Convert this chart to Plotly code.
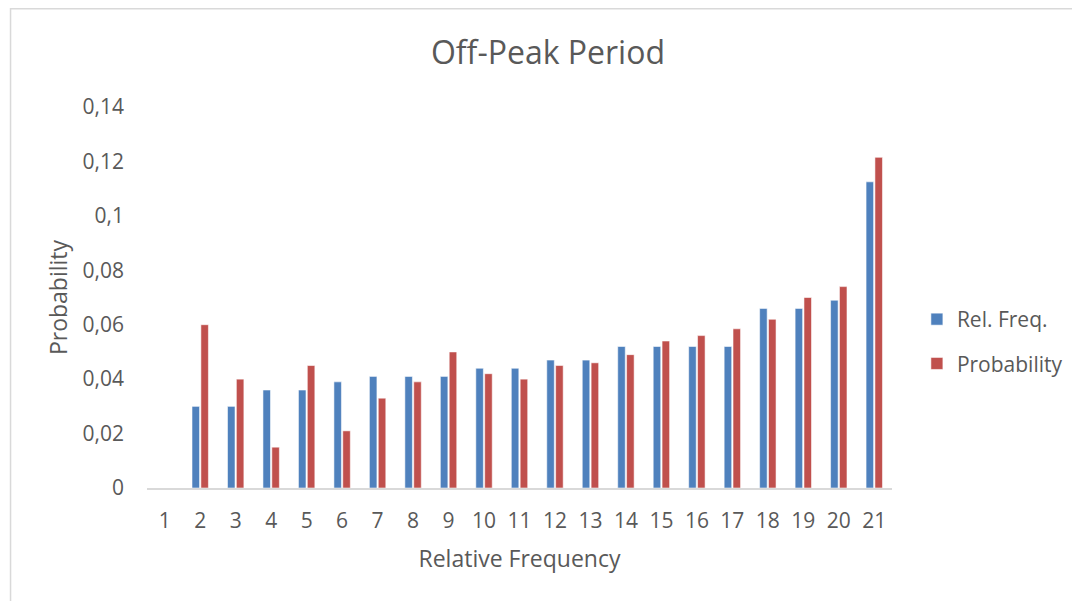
import plotly.graph_objects as go

categories = [str(i) for i in range(1, 22)]
rel_freq = [None, 0.030, 0.030, 0.036, 0.036, 0.039, 0.041, 0.041, 0.041, 0.044,
            0.044, 0.047, 0.047, 0.052, 0.052, 0.052, 0.052, 0.066, 0.066, 0.069, 0.1125]
probability = [None, 0.060, 0.040, 0.015, 0.045, 0.021, 0.033, 0.039, 0.050, 0.042,
               0.040, 0.045, 0.046, 0.049, 0.054, 0.056, 0.0585, 0.062, 0.070, 0.074, 0.1215]
y_tickvals = [0, 0.02, 0.04, 0.06, 0.08, 0.10, 0.12, 0.14]
y_ticktext = ["0", "0,02", "0,04", "0,06", "0,08", "0,1", "0,12", "0,14"]

FONT = "'Open Sans', sans-serif"
GRAY = "#595959"

fig = go.Figure()
fig.add_trace(go.Bar(x=categories, y=rel_freq, name="Rel. Freq.", legendgroup="a",
                     marker=dict(color="#4F81BD", line=dict(color="rgba(255,255,255,0.55)", width=1))))
fig.add_trace(go.Bar(x=categories, y=probability, name="Probability", legendgroup="b",
                     marker=dict(color="#C0504D", line=dict(color="rgba(255,255,255,0.55)", width=1))))

# page has an 8px body margin; figure sized to fill the rest of the window
W, H = 1072, 593
L, R, T, B = 139, 185, 99, 113
pw, ph = W - L - R, H - T - B

def px_x(p):
    return (p - L) / pw

def px_y(p):
    return (H - B - p) / ph

fig.update_layout(
    width=W, height=H,
    margin=dict(l=L, r=R, t=T, b=B),
    paper_bgcolor="white", plot_bgcolor="white",
    barmode="group", bargap=0.5, bargroupgap=0.15,
    font=dict(family=FONT, color=GRAY, size=21),
    title=dict(text="Off-Peak Period", x=540 / W, xref="container", xanchor="center",
               y=1 - 45 / H, yref="container", yanchor="middle",
               font=dict(size=32, color=GRAY, family=FONT)),
    xaxis=dict(type="category", showgrid=False, showline=True, linecolor="#d9d9d9", linewidth=1.5,
               ticks="", ticklabelstandoff=13, tickfont=dict(size=21, color=GRAY),
               title=dict(text="Relative Frequency", font=dict(size=23, color=GRAY), standoff=18)),
    yaxis=dict(range=[0, 0.14], tickvals=y_tickvals, ticktext=y_ticktext, showgrid=False,
               zeroline=False, showline=False, ticks="", ticklabelstandoff=22,
               tickfont=dict(size=21, color=GRAY),
               title=dict(text="Probability", font=dict(size=23, color=GRAY), standoff=8)),
    legend=dict(x=px_x(912), xanchor="left", y=px_y(291), yanchor="top",
                font=dict(size=21, color=GRAY), tracegroupgap=14, traceorder="grouped",
                itemwidth=30, bgcolor="rgba(0,0,0,0)"),
    showlegend=True,
)

fig.add_shape(type="line", xref="paper", yref="paper", x0=px_x(2), x1=px_x(1080),
              y0=px_y(0.75), y1=px_y(0.75), line=dict(color="#d9d9d9", width=1.5))
fig.add_shape(type="line", xref="paper", yref="paper", x0=px_x(2), x1=px_x(2),
              y0=px_y(0), y1=px_y(600), line=dict(color="#d9d9d9", width=1.5))

fig.write_html("out.html")
